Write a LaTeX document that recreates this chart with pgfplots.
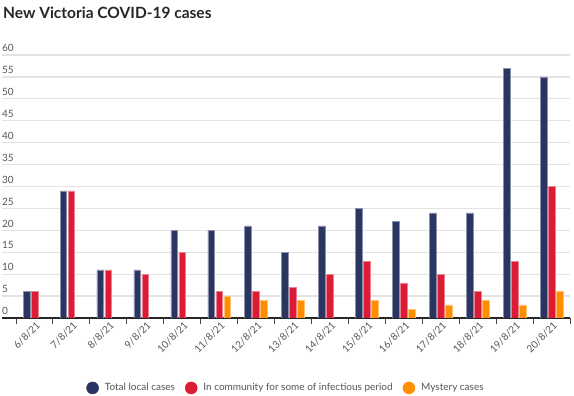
\documentclass[border=0pt]{standalone}
\usepackage{pgfplots}
\pgfplotsset{compat=1.18}
\usepackage{fontspec}
\setmainfont{Lato}
\definecolor{navy}{HTML}{2B3562}
\definecolor{cred}{HTML}{DC1C35}
\definecolor{corange}{HTML}{FF8F00}
\definecolor{txt}{HTML}{555555}
\begin{document}
\begin{tikzpicture}
\useasboundingbox (0,0) rectangle (574pt,396pt);
\begin{axis}[
  at={(2pt,78pt)}, anchor=south west,
  scale only axis, width=568pt, height=263pt,
  ymin=0, ymax=60, ytick={0,5,...,60},
  xmin=-0.879, xmax=14.5,
  xtick={0,...,14},
  xticklabels={6/8/21,7/8/21,8/8/21,9/8/21,10/8/21,11/8/21,12/8/21,13/8/21,14/8/21,15/8/21,16/8/21,17/8/21,18/8/21,19/8/21,20/8/21},
  minor xtick={-0.5,0.5,...,14.5},
  major tick length=0pt, minor tick length=6pt,
  tick align=outside,
  minor tick style={line width=0.9pt, color=black!75},
  axis x line*=bottom, axis y line*=left,
  y axis line style={draw=none},
  x axis line style={line width=1.5pt, color=black!85, -},
  ymajorgrids, grid style={line width=1.3pt, color=black!11},
  /pgf/number format/assume math mode=true,
  yticklabel style={anchor=south west, inner sep=0pt, xshift=0pt, yshift=3pt, font=\fontsize{10}{12}\selectfont, text=txt},
  xticklabel style={rotate=45, anchor=east, xshift=2pt, yshift=-7pt, font=\fontsize{10}{12}\selectfont, text=txt},
  ybar=1.3pt, bar width=6.7pt,
  title={New Victoria COVID-19 cases},
  title style={at={(0,1)}, anchor=base west, yshift=31pt, xshift=1pt, inner sep=0pt, font=\bfseries\fontsize{15.5}{18}\selectfont, text=black!85},
  legend columns=3,
  legend style={at={(0.5,-0.266)}, anchor=center, draw=none, font=\fontsize{10}{12}\selectfont, text=txt,
    /tikz/every even column/.append style={column sep=8pt}},
]
\addplot[fill=navy, draw=navy!55!white, line width=0.5pt,
  legend image code/.code={\fill[navy] (0,0) circle (6pt); \path (10pt,0);}]
  coordinates {(0,6) (1,29) (2,11) (3,11) (4,20) (5,20) (6,21) (7,15) (8,21) (9,25) (10,22) (11,24) (12,24) (13,57) (14,55)};
\addplot[fill=cred, draw=cred!55!white, line width=0.5pt,
  legend image code/.code={\fill[cred] (0,0) circle (6pt); \path (10pt,0);}]
  coordinates {(0,6) (1,29) (2,11) (3,10) (4,15) (5,6) (6,6) (7,7) (8,10) (9,13) (10,8) (11,10) (12,6) (13,13) (14,30)};
\addplot[fill=corange, draw=corange!55!white, line width=0.5pt,
  legend image code/.code={\fill[corange] (0,0) circle (6pt); \path (10pt,0);}]
  coordinates {(5,5) (6,4) (7,4) (9,4) (10,2) (11,3) (12,4) (13,3) (14,6)};
\legend{Total local cases, In community for some of infectious period, Mystery cases}
\end{axis}
\end{tikzpicture}
\end{document}
